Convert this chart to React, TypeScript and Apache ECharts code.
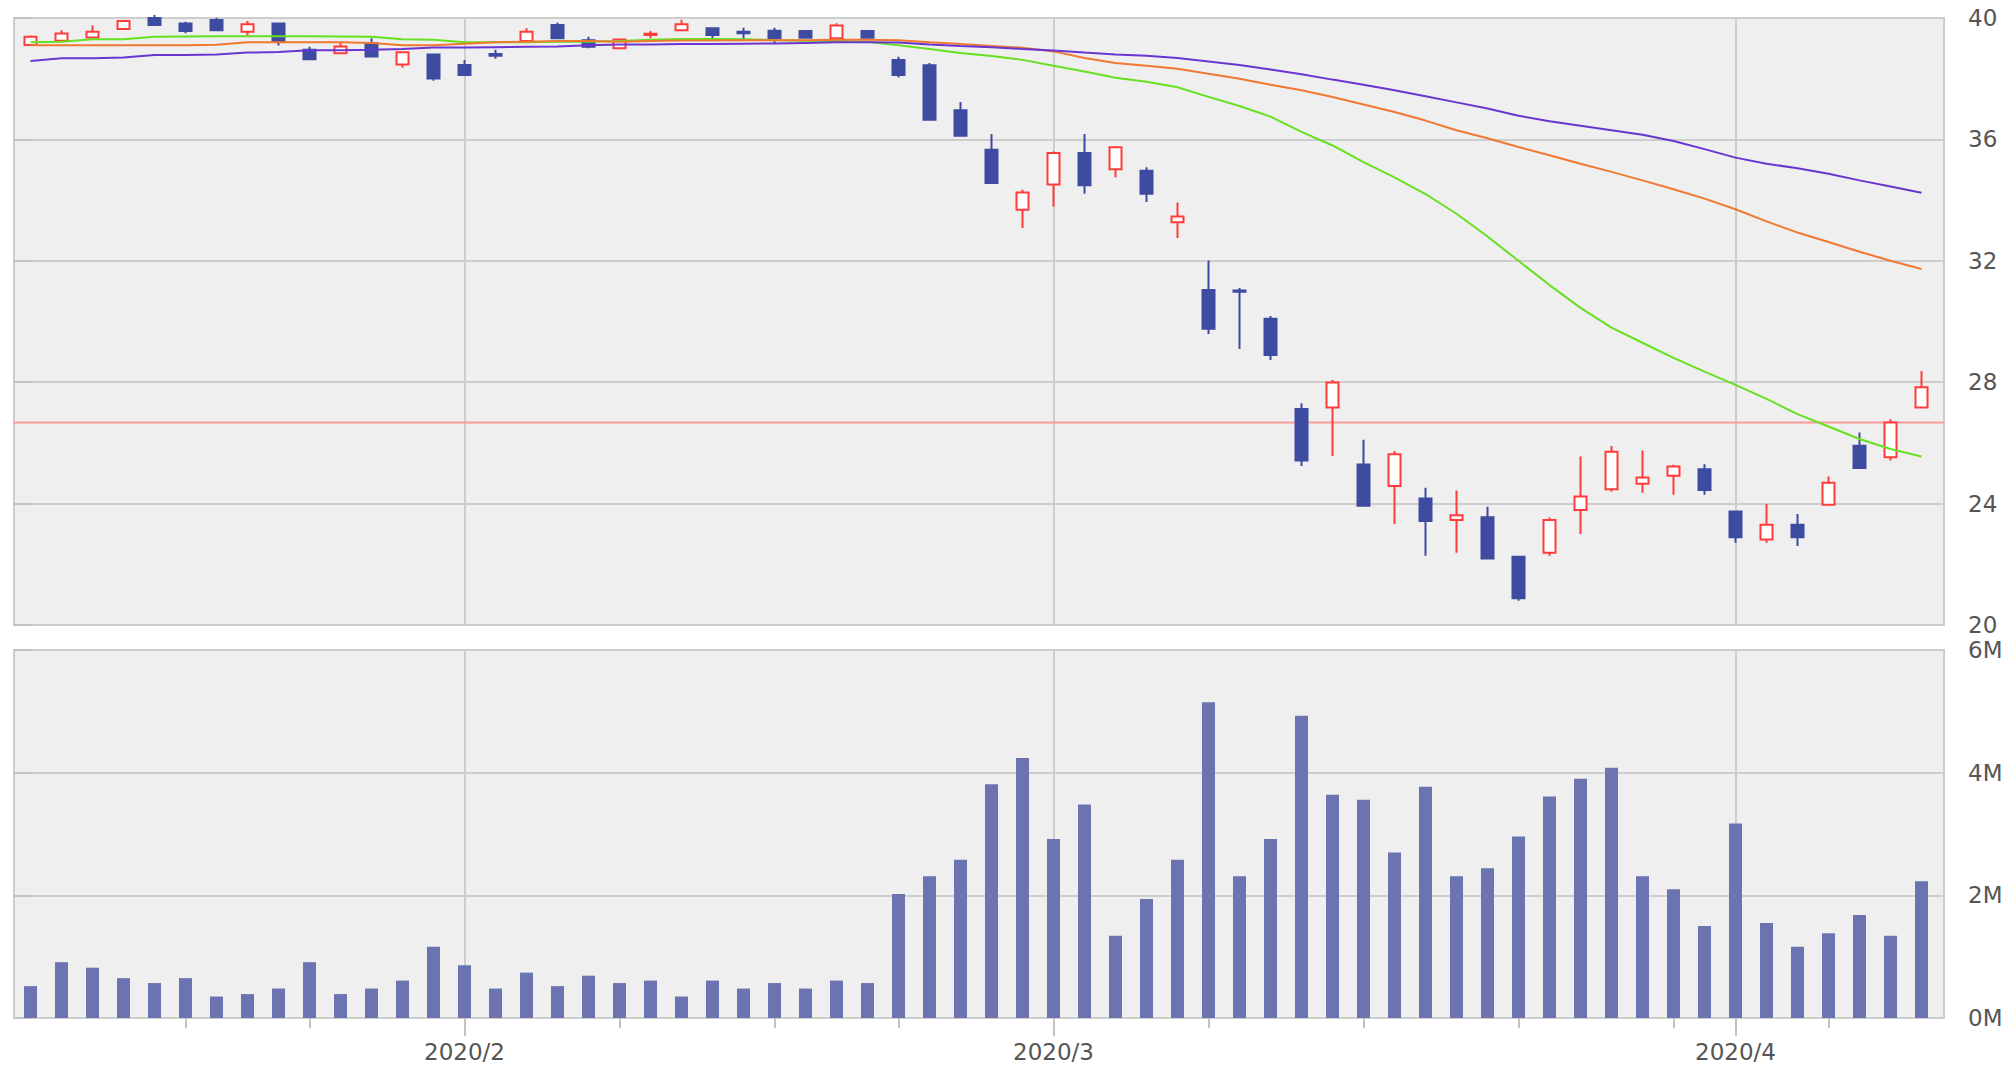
import React, { useEffect, useRef } from "react";
import * as echarts from "echarts";

// Trading days shown on the chart
const dates: string[] = [
  "2020-01-13", "2020-01-14", "2020-01-15", "2020-01-16", "2020-01-17",
  "2020-01-21", "2020-01-22", "2020-01-23", "2020-01-24",
  "2020-01-27", "2020-01-28", "2020-01-29", "2020-01-30", "2020-01-31",
  "2020-02-03", "2020-02-04", "2020-02-05", "2020-02-06", "2020-02-07",
  "2020-02-10", "2020-02-11", "2020-02-12", "2020-02-13", "2020-02-14",
  "2020-02-18", "2020-02-19", "2020-02-20", "2020-02-21",
  "2020-02-24", "2020-02-25", "2020-02-26", "2020-02-27", "2020-02-28",
  "2020-03-02", "2020-03-03", "2020-03-04", "2020-03-05", "2020-03-06",
  "2020-03-09", "2020-03-10", "2020-03-11", "2020-03-12", "2020-03-13",
  "2020-03-16", "2020-03-17", "2020-03-18", "2020-03-19", "2020-03-20",
  "2020-03-23", "2020-03-24", "2020-03-25", "2020-03-26", "2020-03-27",
  "2020-03-30", "2020-03-31", "2020-04-01", "2020-04-02", "2020-04-03",
  "2020-04-06", "2020-04-07", "2020-04-08", "2020-04-09",
];

// [open, close, low, high]
const ohlc: number[][] = [
  [39.11, 39.38, 39.08, 39.42], [39.25, 39.49, 39.22, 39.6], [39.36, 39.55, 39.35, 39.75],
  [39.64, 39.9, 39.64, 39.92], [40.0, 39.77, 39.77, 40.1], [39.82, 39.57, 39.5, 39.88],
  [39.93, 39.6, 39.6, 40.0], [39.55, 39.79, 39.42, 39.9], [39.82, 39.22, 39.09, 39.82],
  [38.95, 38.64, 38.64, 39.05], [38.84, 39.06, 38.84, 39.17], [39.17, 38.73, 38.73, 39.33],
  [38.47, 38.87, 38.36, 38.87], [38.8, 38.01, 37.93, 38.8], [38.45, 38.12, 38.12, 38.62],
  [38.81, 38.76, 38.66, 38.95], [39.24, 39.55, 39.24, 39.66], [39.77, 39.33, 39.33, 39.85],
  [39.27, 39.05, 39.0, 39.38], [39.0, 39.29, 39.0, 39.29], [39.44, 39.48, 39.33, 39.57],
  [39.6, 39.79, 39.6, 39.94], [39.66, 39.44, 39.3, 39.66], [39.55, 39.5, 39.3, 39.68],
  [39.58, 39.33, 39.14, 39.68], [39.57, 39.35, 39.35, 39.57], [39.33, 39.75, 39.33, 39.83],
  [39.57, 39.35, 39.35, 39.57], [38.62, 38.12, 38.04, 38.72], [38.44, 36.65, 36.65, 38.52],
  [36.96, 36.12, 36.12, 37.23], [35.66, 34.56, 34.56, 36.18], [33.68, 34.25, 33.08, 34.34],
  [34.51, 35.55, 33.79, 35.6], [35.55, 34.49, 34.21, 36.18], [35.02, 35.74, 34.75, 35.78],
  [34.97, 34.21, 33.94, 35.08], [33.27, 33.46, 32.75, 33.92], [31.04, 29.76, 29.59, 32.01],
  [31.02, 30.98, 29.09, 31.1], [30.09, 28.9, 28.73, 30.18], [27.12, 25.42, 25.24, 27.31],
  [27.17, 27.99, 25.57, 28.07], [25.29, 23.93, 23.93, 26.1], [24.58, 25.63, 23.33, 25.73],
  [24.17, 23.43, 22.28, 24.52], [23.46, 23.62, 22.38, 24.43], [23.55, 22.19, 22.19, 23.9],
  [22.25, 20.88, 20.8, 22.25], [22.38, 23.46, 22.28, 23.54], [23.79, 24.23, 23.0, 25.55],
  [24.47, 25.71, 24.4, 25.9], [24.65, 24.86, 24.36, 25.75], [24.92, 25.22, 24.29, 25.28],
  [25.13, 24.45, 24.29, 25.3], [23.74, 22.89, 22.71, 23.74], [22.82, 23.3, 22.71, 23.99],
  [23.3, 22.89, 22.6, 23.66], [23.96, 24.69, 23.96, 24.89], [25.91, 25.17, 25.17, 26.34],
  [25.53, 26.67, 25.42, 26.78], [27.17, 27.83, 27.17, 28.37],
];

// Moving averages
const maShort: number[] = [
  39.2, 39.22, 39.3, 39.3, 39.38, 39.39, 39.4, 39.4, 39.4, 39.4, 39.39, 39.38, 39.3, 39.28,
  39.2, 39.2, 39.2, 39.22, 39.22, 39.24, 39.28, 39.31, 39.31, 39.3, 39.27, 39.25, 39.24, 39.22,
  39.1, 38.98, 38.85, 38.75, 38.62, 38.43, 38.24, 38.03, 37.9, 37.72, 37.4, 37.1, 36.75, 36.25,
  35.8, 35.25, 34.75, 34.2, 33.55, 32.8, 32.0, 31.2, 30.45, 29.8, 29.3, 28.8, 28.35, 27.91,
  27.45, 26.95, 26.54, 26.13, 25.8, 25.55,
];
const maMid: number[] = [
  39.1, 39.1, 39.1, 39.1, 39.1, 39.1, 39.12, 39.2, 39.2, 39.2, 39.2, 39.18, 39.1, 39.1,
  39.15, 39.2, 39.22, 39.24, 39.24, 39.22, 39.24, 39.26, 39.26, 39.27, 39.27, 39.27, 39.28, 39.28,
  39.27, 39.2, 39.14, 39.08, 39.02, 38.9, 38.68, 38.52, 38.43, 38.33, 38.16, 38.0, 37.8, 37.62,
  37.4, 37.15, 36.9, 36.62, 36.3, 36.04, 35.75, 35.48, 35.2, 34.93, 34.65, 34.36, 34.05, 33.7,
  33.3, 32.93, 32.62, 32.3, 32.0, 31.73,
];
const maLong: number[] = [
  38.58, 38.67, 38.67, 38.7, 38.78, 38.78, 38.8, 38.86, 38.88, 38.94, 38.94, 38.95, 38.98, 39.03,
  39.03, 39.04, 39.05, 39.06, 39.1, 39.13, 39.13, 39.14, 39.14, 39.15, 39.16, 39.18, 39.2, 39.2,
  39.19, 39.13, 39.08, 39.04, 38.98, 38.93, 38.86, 38.8, 38.76, 38.68, 38.57, 38.45, 38.3, 38.15,
  37.97, 37.8, 37.62, 37.42, 37.22, 37.02, 36.78, 36.6, 36.45, 36.3, 36.15, 35.95, 35.68, 35.4,
  35.2, 35.05, 34.87, 34.65, 34.45, 34.24,
];

// Volume (millions of shares)
const volumeM: number[] = [
  0.52, 0.91, 0.82, 0.65, 0.57, 0.65, 0.35, 0.39, 0.48, 0.91, 0.39, 0.48, 0.61, 1.16,
  0.86, 0.48, 0.74, 0.52, 0.69, 0.57, 0.61, 0.35, 0.61, 0.48, 0.57, 0.48, 0.61, 0.57,
  2.02, 2.31, 2.58, 3.81, 4.24, 2.92, 3.48, 1.34, 1.94, 2.58, 5.15, 2.31, 2.92, 4.93,
  3.64, 3.56, 2.7, 3.77, 2.31, 2.44, 2.96, 3.61, 3.9, 4.08, 2.31, 2.1, 1.5, 3.17,
  1.55, 1.16, 1.38, 1.68, 1.34, 2.23,
];
const volume = volumeM.map((v) => v * 1e6);

const refPrice = 26.67;
const priceTicks = { min: 20, max: 40, step: 4 };
const volTicks = { min: 0, max: 6e6, step: 2e6 };

const parsed = dates.map((d) => new Date(d + "T00:00:00Z"));
const isMonthStart = (i: number) => i > 0 && parsed[i].getUTCMonth() !== parsed[i - 1].getUTCMonth();
const isWeekStart = (i: number) =>
  i > 0 &&
  (parsed[i].getUTCDay() < parsed[i - 1].getUTCDay() ||
    (parsed[i].getTime() - parsed[i - 1].getTime()) / 86400000 >= 7);
const monthLabel = (v: string) => {
  const d = new Date(v + "T00:00:00Z");
  return d.getUTCFullYear() + "/" + (d.getUTCMonth() + 1);
};

const FONT = "DejaVu Sans";
const GRID_COLOR = "#cdcdcd";
const TICK_COLOR = "#c2c2c2";
const LABEL_COLOR = "#555555";

export default function App() {
  const ref = useRef<HTMLDivElement>(null);
  useEffect(() => {
    document.body.style.margin = "0";
    const chart = echarts.init(ref.current!, null, { renderer: "svg" });
    const pTop = 18, pH = 607, vTop = 650, vH = 368;
    const left = 15, plotW = 1922, fLeft = 14, fW = 1930;
    const monthFn = (idx: number) => isMonthStart(idx);
    const weekFn = (idx: number) => isWeekStart(idx);
    const option: any = {
      animation: false,
      backgroundColor: "#ffffff",
      textStyle: { fontFamily: FONT },
      grid: [
        { left, top: pTop, width: plotW, height: pH, show: false },
        { left, top: vTop, width: plotW, height: vH, show: false },
        { left: fLeft, top: pTop, width: fW, height: pH, show: true, backgroundColor: "#efefef", borderColor: "#cccccc", borderWidth: 2 },
        { left: fLeft, top: vTop, width: fW, height: vH, show: true, backgroundColor: "#efefef", borderColor: "#cccccc", borderWidth: 2 },
      ],
      xAxis: [
        {
          type: "category", gridIndex: 0, data: dates, boundaryGap: true,
          axisLine: { show: false }, axisTick: { show: false }, axisLabel: { show: false },
          splitLine: { show: true, interval: monthFn, alignWithLabel: true, lineStyle: { color: GRID_COLOR, width: 2 } },
        },
        {
          type: "category", gridIndex: 1, data: dates, boundaryGap: true, position: "bottom",
          axisLine: { show: false },
          axisTick: { show: true, interval: weekFn, alignWithLabel: true, length: 10, lineStyle: { color: TICK_COLOR, width: 2 } },
          axisLabel: { show: false },
          splitLine: { show: true, interval: monthFn, alignWithLabel: true, lineStyle: { color: GRID_COLOR, width: 2 } },
        },
        {
          type: "category", gridIndex: 1, data: dates, boundaryGap: true, position: "bottom",
          axisLine: { show: false },
          axisTick: { show: true, interval: monthFn, alignWithLabel: true, length: 18, lineStyle: { color: TICK_COLOR, width: 2 } },
          axisLabel: { show: true, interval: monthFn, formatter: monthLabel, fontSize: 23, lineHeight: 24, color: LABEL_COLOR, margin: 22, fontFamily: FONT },
          splitLine: { show: false },
        },
        { type: "value", gridIndex: 2, min: 0, max: 1, show: false },
        { type: "value", gridIndex: 3, min: 0, max: 1, show: false },
      ],
      yAxis: [
        { type: "value", gridIndex: 0, min: priceTicks.min, max: priceTicks.max, show: false },
        { type: "value", gridIndex: 1, min: volTicks.min, max: volTicks.max, show: false },
        {
          type: "value", gridIndex: 2, position: "right", min: priceTicks.min, max: priceTicks.max, interval: priceTicks.step,
          axisLine: { show: false },
          axisTick: { show: true, length: 18, lineStyle: { color: TICK_COLOR, width: 2 } },
          axisLabel: { fontSize: 23, color: LABEL_COLOR, margin: 24, fontFamily: FONT },
          splitLine: { show: true, lineStyle: { color: GRID_COLOR, width: 2 } },
        },
        {
          type: "value", gridIndex: 3, position: "right", min: volTicks.min, max: volTicks.max, interval: volTicks.step,
          axisLine: { show: false },
          axisTick: { show: true, length: 18, lineStyle: { color: TICK_COLOR, width: 2 } },
          axisLabel: { fontSize: 23, color: LABEL_COLOR, margin: 24, fontFamily: FONT, formatter: (v: number) => v / 1e6 + "M" },
          splitLine: { show: true, lineStyle: { color: GRID_COLOR, width: 2 } },
        },
      ],
      series: [
        {
          type: "line", xAxisIndex: 3, yAxisIndex: 2, z: 1, symbol: "none", silent: true,
          data: [[0, refPrice], [1, refPrice]],
          lineStyle: { color: "#ff9a9a", width: 2 },
        },
        {
          type: "candlestick", xAxisIndex: 0, yAxisIndex: 0, z: 3, barWidth: 13,
          data: ohlc,
          itemStyle: { color: "#ffffff", color0: "#3d4ba1", borderColor: "#ff3b3b", borderColor0: "#3d4ba1", borderWidth: 2 },
        },
        { type: "line", xAxisIndex: 0, yAxisIndex: 0, z: 4, symbol: "none", data: maShort, lineStyle: { color: "#66e020", width: 2 } },
        { type: "line", xAxisIndex: 0, yAxisIndex: 0, z: 4, symbol: "none", data: maMid, lineStyle: { color: "#f07830", width: 2 } },
        { type: "line", xAxisIndex: 0, yAxisIndex: 0, z: 4, symbol: "none", data: maLong, lineStyle: { color: "#6a35d0", width: 2 } },
        {
          type: "bar", xAxisIndex: 1, yAxisIndex: 1, z: 3, barWidth: 13,
          data: volume, itemStyle: { color: "#6b74b0" },
        },
      ],
    };
    chart.setOption(option);
    return () => chart.dispose();
  }, []);
  return <div ref={ref} style={{ width: 2008, height: 1067 }} />;
}
